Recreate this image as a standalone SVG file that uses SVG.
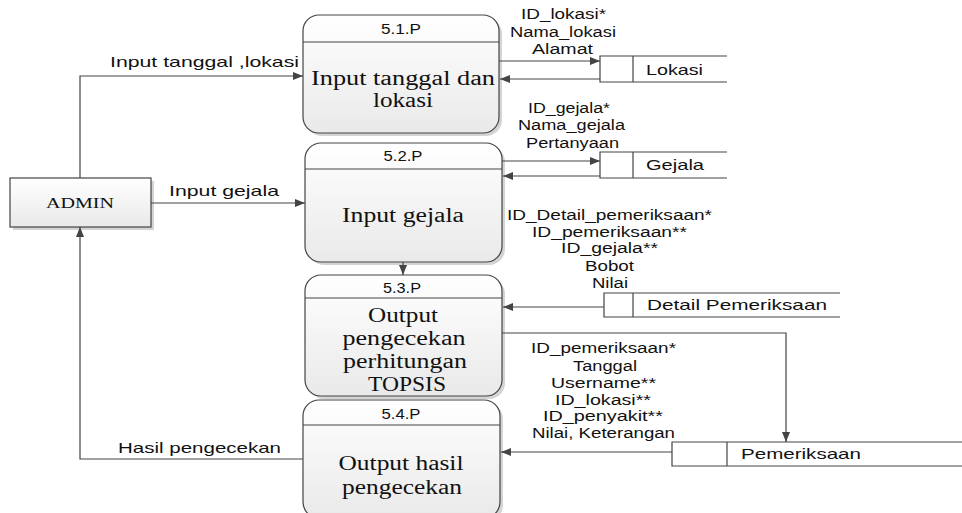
<svg xmlns="http://www.w3.org/2000/svg" width="962" height="513" viewBox="0 0 962 513">
<style>
.proc{fill:url(#g);stroke:#444;stroke-width:1.2}
.hdr{stroke:#444;stroke-width:1.2}
.shadow{fill:#d4d4d4}
.st{fill:#fff;stroke:#444;stroke-width:1.2}
.ln{fill:none;stroke:#444;stroke-width:1.2}
.s{font-family:"Liberation Sans",Arial,sans-serif;font-size:14px;fill:#111}
.n{font-family:"Liberation Sans",Arial,sans-serif;font-size:14px;fill:#111;text-anchor:middle}
.t{font-family:"Liberation Serif","Times New Roman",serif;font-size:20px;fill:#111;text-anchor:middle}
</style>
<defs>
<linearGradient id="g" x1="0" y1="0" x2="0" y2="1">
<stop offset="0" stop-color="#ffffff"/>
<stop offset="1" stop-color="#e9e9e9"/>
</linearGradient>
<marker id="a" markerWidth="10" markerHeight="8" refX="10" refY="4" orient="auto" markerUnits="userSpaceOnUse">
<path d="M0,0 L10,4 L0,8 Z" fill="#444"/>
</marker>
</defs>
<rect width="962" height="513" fill="#fff"/>

<g id="admin">
<rect x="13" y="181" width="141" height="49" class="shadow"/>
<rect x="10" y="178" width="141" height="49" fill="url(#g)" stroke="#444" stroke-width="1.2"/>
<text x="80" y="208" class="t" style="font-size:15px" textLength="68" lengthAdjust="spacingAndGlyphs">ADMIN</text>
</g>

<g id="p51">
<rect x="306" y="18" width="196" height="118" rx="16" class="shadow"/>
<rect x="303" y="15" width="196" height="118" rx="16" class="proc"/>
<line x1="303" y1="42" x2="499" y2="42" class="hdr"/>
<text x="401" y="34" class="n" textLength="40" lengthAdjust="spacingAndGlyphs">5.1.P</text>
<text x="403" y="85" class="t" textLength="184" lengthAdjust="spacingAndGlyphs">Input tanggal dan</text>
<text x="403" y="107" class="t" textLength="60" lengthAdjust="spacingAndGlyphs">lokasi</text>
</g>

<g id="p52">
<rect x="308" y="146" width="197" height="119" rx="16" class="shadow"/>
<rect x="305" y="143" width="197" height="119" rx="16" class="proc"/>
<line x1="305" y1="169" x2="502" y2="169" class="hdr"/>
<text x="403" y="161" class="n" textLength="39" lengthAdjust="spacingAndGlyphs">5.2.P</text>
<text x="403" y="222" class="t" textLength="122" lengthAdjust="spacingAndGlyphs">Input gejala</text>
</g>

<g id="p53">
<rect x="308" y="278" width="197" height="121" rx="16" class="shadow"/>
<rect x="305" y="275" width="197" height="121" rx="16" class="proc"/>
<line x1="305" y1="298" x2="502" y2="298" class="hdr"/>
<text x="402" y="293" class="n" textLength="38" lengthAdjust="spacingAndGlyphs">5.3.P</text>
<text x="403" y="322" class="t" textLength="70" lengthAdjust="spacingAndGlyphs">Output</text>
<text x="404" y="345" class="t" textLength="123" lengthAdjust="spacingAndGlyphs">pengecekan</text>
<text x="405" y="368" class="t" textLength="124" lengthAdjust="spacingAndGlyphs">perhitungan</text>
<text x="407" y="391" class="t" textLength="78" lengthAdjust="spacingAndGlyphs">TOPSIS</text>
</g>

<g id="p54">
<rect x="306" y="403" width="197" height="118" rx="16" class="shadow"/>
<rect x="303" y="400" width="197" height="118" rx="16" class="proc"/>
<line x1="303" y1="425" x2="500" y2="425" class="hdr"/>
<text x="401" y="419" class="n" textLength="39" lengthAdjust="spacingAndGlyphs">5.4.P</text>
<text x="401" y="470" class="t" textLength="125" lengthAdjust="spacingAndGlyphs">Output hasil</text>
<text x="402" y="494" class="t" textLength="120" lengthAdjust="spacingAndGlyphs">pengecekan</text>
</g>

<g id="lokasi">
<path d="M727,56 H600 V82 H727" class="st"/>
<line x1="633" y1="56" x2="633" y2="82" class="ln"/>
<text x="646" y="75" class="s" style="font-size:15px" textLength="57" lengthAdjust="spacingAndGlyphs">Lokasi</text>
</g>

<g id="gejala">
<path d="M727,152 H600 V178 H727" class="st"/>
<line x1="633" y1="152" x2="633" y2="178" class="ln"/>
<text x="646" y="170" class="s" style="font-size:15px" textLength="58" lengthAdjust="spacingAndGlyphs">Gejala</text>
</g>

<g id="detail">
<path d="M840,293 H604 V317 H840" class="st"/>
<line x1="633" y1="293" x2="633" y2="317" class="ln"/>
<text x="647" y="310" class="s" style="font-size:15px" textLength="180" lengthAdjust="spacingAndGlyphs">Detail Pemeriksaan</text>
</g>

<g id="pemeriksaan">
<path d="M962,442 H672 V466 H962" class="st"/>
<line x1="727" y1="442" x2="727" y2="466" class="ln"/>
<text x="741" y="459" class="s" style="font-size:15px" textLength="120" lengthAdjust="spacingAndGlyphs">Pemeriksaan</text>
</g>

<g id="connectors">
<path d="M80,178 V76 H303" class="ln" marker-end="url(#a)"/>
<path d="M151,203 H305" class="ln" marker-end="url(#a)"/>
<path d="M303,459 H80 V227" class="ln" marker-end="url(#a)"/>
<path d="M499,61 H600" class="ln" marker-end="url(#a)"/>
<path d="M600,79 H500" class="ln" marker-end="url(#a)"/>
<path d="M502,161 H600" class="ln" marker-end="url(#a)"/>
<path d="M600,176 H503" class="ln" marker-end="url(#a)"/>
<path d="M403,262 V275" class="ln" marker-end="url(#a)"/>
<path d="M604,307 H503" class="ln" marker-end="url(#a)"/>
<path d="M502,333 H786 V442" class="ln" marker-end="url(#a)"/>
<path d="M672,452 H501" class="ln" marker-end="url(#a)"/>
</g>

<g id="labels">
<text x="110" y="67" class="s" style="font-size:15px" textLength="189" lengthAdjust="spacingAndGlyphs">Input tanggal ,lokasi</text>
<text x="169" y="196" class="s" style="font-size:15px" textLength="110" lengthAdjust="spacingAndGlyphs">Input gejala</text>
<text x="118" y="453" class="s" style="font-size:15px" textLength="163" lengthAdjust="spacingAndGlyphs">Hasil pengecekan</text>
<text x="521" y="19" class="s" textLength="85" lengthAdjust="spacingAndGlyphs">ID_lokasi*</text>
<text x="510" y="37" class="s" textLength="106" lengthAdjust="spacingAndGlyphs">Nama_lokasi</text>
<text x="532" y="54" class="s" textLength="61" lengthAdjust="spacingAndGlyphs">Alamat</text>
<text x="528" y="113" class="s" textLength="82" lengthAdjust="spacingAndGlyphs">ID_gejala*</text>
<text x="518" y="130" class="s" textLength="107" lengthAdjust="spacingAndGlyphs">Nama_gejala</text>
<text x="526" y="148" class="s" textLength="93" lengthAdjust="spacingAndGlyphs">Pertanyaan</text>
<text x="507" y="220" class="s" textLength="205" lengthAdjust="spacingAndGlyphs">ID_Detail_pemeriksaan*</text>
<text x="532" y="237" class="s" textLength="155" lengthAdjust="spacingAndGlyphs">ID_pemeriksaan**</text>
<text x="561" y="253" class="s" textLength="97" lengthAdjust="spacingAndGlyphs">ID_gejala**</text>
<text x="585" y="271" class="s" textLength="49" lengthAdjust="spacingAndGlyphs">Bobot</text>
<text x="592" y="288" class="s" textLength="36" lengthAdjust="spacingAndGlyphs">Nilai</text>
<text x="531" y="353" class="s" textLength="145" lengthAdjust="spacingAndGlyphs">ID_pemeriksaan*</text>
<text x="573" y="371" class="s" textLength="64" lengthAdjust="spacingAndGlyphs">Tanggal</text>
<text x="551" y="388" class="s" textLength="105" lengthAdjust="spacingAndGlyphs">Username**</text>
<text x="555" y="405" class="s" textLength="96" lengthAdjust="spacingAndGlyphs">ID_lokasi**</text>
<text x="543" y="421" class="s" textLength="120" lengthAdjust="spacingAndGlyphs">ID_penyakit**</text>
<text x="532" y="438" class="s" textLength="143" lengthAdjust="spacingAndGlyphs">Nilai, Keterangan</text>
</g>
</svg>
